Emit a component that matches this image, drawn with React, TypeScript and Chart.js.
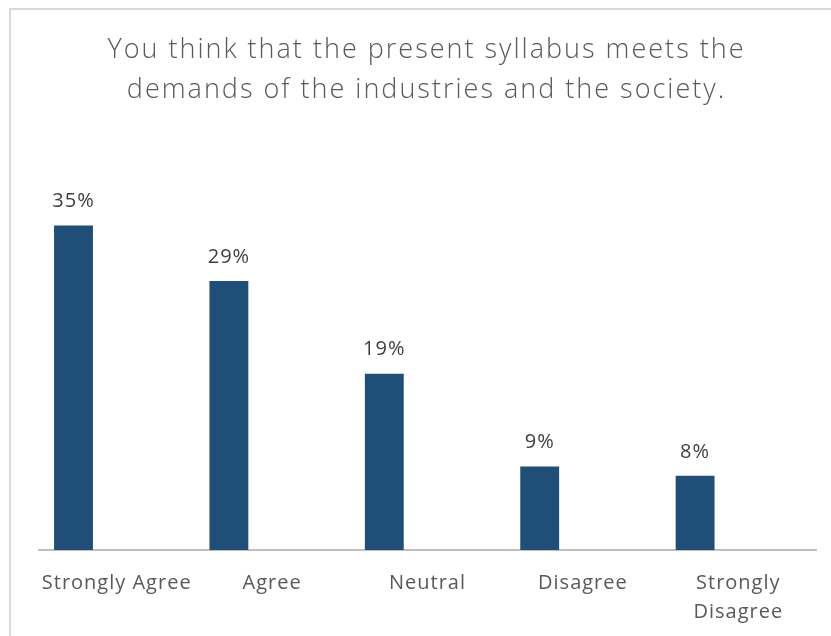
import React, { useEffect, useRef } from "react";
import { Chart, registerables } from "chart.js";

Chart.register(...registerables);

const categories: (string | string[])[] = ["Strongly Agree", "Agree", "Neutral", "Disagree", ["Strongly", "Disagree"]];
const values: number[] = [35, 29, 19, 9, 8];
const emptySeries: (number | null)[] = [null, null, null, null, null];
const titleLines: string[] = ["You think that the present syllabus meets the", "demands of the industries and the society."];
const FONT = "'Open Sans', 'Noto Sans', sans-serif";

const spacingPlugin = {
  id: "spacing",
  beforeDraw(chart: any) {
    (chart.ctx as any).letterSpacing = "1px";
  },
  afterDraw(chart: any) {
    (chart.ctx as any).letterSpacing = "0px";
  },
};

const titlePlugin = {
  id: "customTitle",
  afterDraw(chart: any) {
    const ctx = chart.ctx;
    ctx.save();
    (ctx as any).letterSpacing = "2px";
    ctx.fillStyle = "#595959";
    ctx.font = `300 27px ${FONT}`;
    ctx.textAlign = "center";
    ctx.textBaseline = "middle";
    const cx = chart.width / 2 + 11;
    titleLines.forEach((line, i) => ctx.fillText(line, cx, 50 + i * 40));
    ctx.restore();
  },
};

const labelPlugin = {
  id: "valueLabels",
  afterDatasetsDraw(chart: any) {
    const ctx = chart.ctx;
    const meta = chart.getDatasetMeta(0);
    ctx.save();
    (ctx as any).letterSpacing = "1px";
    ctx.fillStyle = "#404040";
    ctx.font = `20px ${FONT}`;
    ctx.textAlign = "center";
    ctx.textBaseline = "middle";
    meta.data.forEach((bar: any, i: number) => {
      ctx.fillText(`${values[i]}%`, bar.x, bar.y - 24);
    });
    ctx.restore();
  },
};

export default function App() {
  const ref = useRef<HTMLCanvasElement>(null);
  useEffect(() => {
    const chart = new Chart(ref.current!, {
      type: "bar",
      data: {
        labels: categories,
        datasets: [
          { data: values, backgroundColor: "#1F4E79", barPercentage: 0.9, categoryPercentage: 0.834 },
          { data: emptySeries, backgroundColor: "#1F4E79", barPercentage: 0.9, categoryPercentage: 0.834 },
          { data: emptySeries, backgroundColor: "#1F4E79", barPercentage: 0.9, categoryPercentage: 0.834 },
        ],
      },
      options: {
        animation: false,
        responsive: false,
        layout: { padding: { left: 39, right: 15, top: 179, bottom: 0 } },
        plugins: {
          legend: { display: false },
          tooltip: { enabled: false },
          title: { display: false },
        },
        scales: {
          x: {
            grid: { display: false, drawTicks: false },
            border: { display: true, color: "#BFBFBF", width: 2 },
            ticks: {
              color: "#595959",
              font: { family: FONT, size: 20, lineHeight: 1.45 },
              padding: 19,
              maxRotation: 0,
              autoSkip: false,
            },
            afterFit: (s: any) => {
              s.height = 86;
            },
          },
          y: { display: false, min: 0, max: 40 },
        },
      },
      plugins: [spacingPlugin, labelPlugin, titlePlugin],
    });
    return () => chart.destroy();
  }, []);
  return (
    <div style={{ position: "fixed", left: 0, top: 0, width: 831, height: 636, overflow: "hidden", background: "#fff" }}>
      <div style={{ position: "absolute", left: 9, top: 8, width: 900, height: 700, border: "2px solid #D9D9D9" }} />
      <canvas ref={ref} width={831} height={636} style={{ position: "absolute", left: 0, top: 0 }} />
    </div>
  );
}
